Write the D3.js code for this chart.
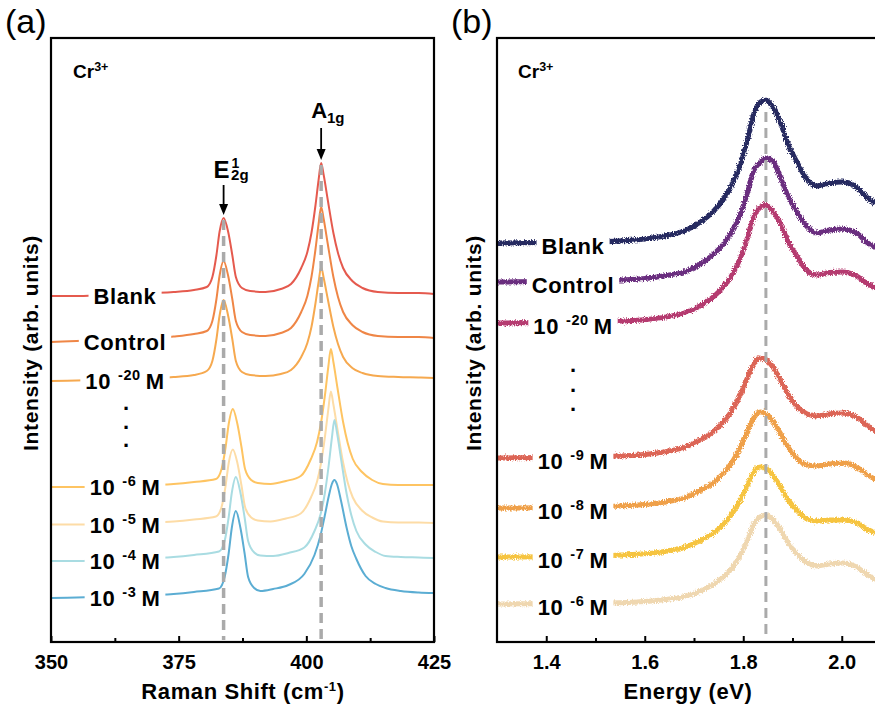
<!DOCTYPE html>
<html>
<head>
<meta charset="utf-8">
<script src="https://cdn.jsdelivr.net/npm/d3@7"></script>
<style>
  body { margin: 0; background: #fff; }
  text { font-family: "Liberation Sans", Arial, sans-serif; fill: #000; }
</style>
</head>
<body>
<svg id="chart" width="875" height="706"></svg>
<script>
// ---- panel (a): Raman spectra ----
const ramanX = [350,355,360,365,370,374,378,380.5,381.6,382.4,383.0,383.8,384.7,385.5,386.2,387.4,389,392,395,397,399,400.2,401.0,401.8,402.4,402.9,403.4,404.2,405.3,406.2,407.2,409,411,414,418,422,425]
const ramanXMid = [350,355,360,365,370,374,378,382.3,383.4,384.2,384.8,385.6,386.5,387.3,388.0,389.2,390.5,393,396,398.9,400.9,402.1,402.9,403.7,404.3,404.8,405.3,406.1,407.2,408.1,409.1,410.9,412.9,415,418,422,425]
const ramanXLow = [350,355,360,365,370,374,378,382.9,384.0,384.8,385.4,386.2,387.1,387.9,388.6,389.8,391,393.5,396.5,399.6,401.6,402.8,403.6,404.4,405.0,405.5,406.0,406.8,407.9,408.8,409.8,411.6,413.6,415.5,418.5,422,425]

const ramanBlank = [346,346,347,348,349,350,352,355,365,387,410,424,410,387,365,354,351,350,353,358,374,390,409,437,462,479,467,442,409,389,374,361,354,350,349,349,348]
const ramanControl = [300,301,302,303,304,305.5,308,311,321,343,366,381,366,343,321,310,307,306,309,314,330,346,365,393,418,435,423,398,365,345,330,317,310,306,305,305,304]
const raman20 = [261,261.5,262,263,264,265,267,271,281,303,326,342,326,303,281,270,267,266,268,272,285,299,315,339,360,375,364,343,315,298,285,274,269,266,265,264.5,264]
const raman6 = [155,155,155.5,156,157,158,160,163,173,195,218,233,218,195,173,162,159,158,161,166,183,200,220,249,275,293,280,254,220,199,183,170,162,158,157,157,157]
const raman5 = [117.5,117.5,118,119,119.5,120.5,122.5,125.5,135,156.5,179,192.5,179,156.5,135,124.5,121.5,120.5,123.5,128.5,144.5,160.5,179.5,207.5,232.5,250.5,237.5,212.5,179.5,159.5,144.5,131.5,124.5,120.5,119.5,119.5,119]
const raman4 = [81,81,82,83,84,85,87,90.5,101,125,149,165,149,125,101,89.5,86.5,86,89,94.5,111,128,148,177.5,204,222,209.5,183,148,127,111,97.5,90,86,85,84.5,84]
const raman3 = [44,44.5,45,46,47,48,50,53.5,65,89,114,131,114,89,65,54,51,53,57,68,87,107,126,146,158,162,158,141,114,96,83,66,58,54,51,49.5,49]

const ramanNames = ['Blank', 'Control', '10^-20', '10^-6', '10^-5', '10^-4', '10^-3']
const ramanPeaks = [383.8, 402.9]
const ramanTicks = [350, 375, 400, 425]
const ramanMinor = [362.5, 387.5, 412.5]

// ---- panel (b): PL spectra ----
const plX = [1.30,1.40,1.50,1.55,1.60,1.65,1.68,1.71,1.74,1.76,1.775,1.795,1.81,1.82,1.835,1.845,1.86,1.875,1.89,1.91,1.93,1.95,1.975,2.00,2.03,2.05,2.07,2.10]
const plBlank = [399,399.5,400,401,403,407,411,419,431,443,455,479,505,526,540,542,535,520,499,479,462,456,459,460,455,445,438,430]
const plControl = [360,360.4,361,362,363.5,367,370,377,388,398,409,429,452,470,480,484,481,465,447,429,415,409,412,413,409,400,394,387]
const pl20 = [319,319.4,320,321,322.3,325.6,329,335.5,345.4,355.3,365.2,385,406.5,424,435,437,431,419,401.5,385,371,367,369.5,370,366,359,354,347]
const pl9 = [184,184.4,185,186,187.5,191,194.5,201.5,210.6,220.4,230,248.4,266,277,284,282.7,275,262.4,248.4,235,228,226,228,229,225,217,211,205]
const pl8 = [134,134.3,135,136,137.4,140.7,144,150.8,159.5,168.8,178,195.6,212.4,223,230,228.5,221,209,195.6,183,177,176,178,179,175,168,162,156]
const pl7 = [85,85.3,85.9,86.9,88.2,91.3,94.5,100.8,109,117.8,126.6,143,158.7,168.8,175,173.8,167,155.6,143,131,123,121,122,122,119.6,113,109,104]
const pl6 = [38,38.3,38.6,39.2,40.5,43,45.4,50.4,57.8,65.3,72.7,87.6,103.7,116.7,125.4,126.7,122.3,113,100,87.6,79,76,78,79,75,68,62,57]

const plNames = ['Blank', 'Control', '10^-20', '10^-9', '10^-8', '10^-7', '10^-6']
const plPeak = 1.846
const plTicks = [1.4, 1.6, 1.8, 2.0]
const plMinor = [1.5, 1.7, 1.9]

const ramanColors = ['#e55a4e', '#ef8646', '#f6a94f', '#fec462', '#fddca6', '#a9dce2', '#5badd3']
const plColors = ['#262a60', '#6b2d7f', '#b53a70', '#dc6556', '#efa048', '#f6c43f', '#efd7b0']

const svg = d3.select('#chart')
svg.append('rect').attr('width', 875).attr('height', 706).attr('fill', '#fff')

const defs = svg.append('defs')
const filt = defs.append('filter').attr('id', 'noisy')
  .attr('filterUnits', 'userSpaceOnUse')
  .attr('x', 0).attr('y', 0).attr('width', 875).attr('height', 706)
filt.append('feTurbulence').attr('type', 'fractalNoise')
  .attr('baseFrequency', '0.9 0.6').attr('numOctaves', 2).attr('seed', 4).attr('result', 'n')
filt.append('feDisplacementMap').attr('in', 'SourceGraphic').attr('in2', 'n')
  .attr('scale', 5).attr('xChannelSelector', 'R').attr('yChannelSelector', 'G')

const plotTop = 38, plotBottom = 642

// text helper: "10^-6" -> 10 with superscript and trailing M
function addLabel(g, x, y, str, size) {
  const t = g.append('text')
    .attr('x', x).attr('y', y)
    .attr('text-anchor', 'middle')
    .attr('font-size', size)
    .attr('font-weight', 'bold')
    .attr('letter-spacing', 0.6)
  if (str.startsWith('10^')) {
    t.append('tspan').text('10')
    t.append('tspan').attr('dx', 7).attr('dy', -9).attr('font-size', size * 0.66).text(str.slice(3))
    t.append('tspan').attr('dx', 5).attr('dy', 9).text('M')
  } else {
    t.text(str)
  }
  const b = t.node().getBBox()
  g.insert('rect', () => t.node())
    .attr('x', b.x - 5).attr('y', b.y + 2)
    .attr('width', b.width + 10).attr('height', b.height - 4)
    .attr('fill', '#fff')
  return t
}

function drawFrame(g, x, x0, x1, ticks, minor, fmt) {
  g.append('g')
    .attr('transform', `translate(0,${plotBottom})`)
    .call(d3.axisBottom(x).tickValues(minor).tickSize(-4).tickFormat(''))
    .call(a => a.select('.domain').remove())
    .call(a => a.selectAll('line').attr('stroke-width', 2))

  const ax = g.append('g')
    .attr('transform', `translate(0,${plotBottom})`)
    .call(d3.axisBottom(x).tickValues(ticks).tickSize(-6).tickPadding(13).tickFormat(fmt))
  ax.select('.domain').remove()
  ax.selectAll('line').attr('stroke-width', 2)
  ax.selectAll('text').attr('font-size', 20).attr('font-weight', 'bold')
    .attr('font-family', '"Liberation Sans", Arial, sans-serif')

  g.append('rect')
    .attr('x', x0).attr('y', plotTop)
    .attr('width', x1 - x0).attr('height', plotBottom - plotTop)
    .attr('fill', 'none').attr('stroke', '#000').attr('stroke-width', 2.2)
}

function yTitle(g, x, cy) {
  g.append('text')
    .attr('transform', `translate(${x},${cy}) rotate(-90)`)
    .attr('text-anchor', 'middle')
    .attr('font-size', 21).attr('font-weight', 'bold').attr('letter-spacing', 0.7)
    .text('Intensity (arb. units)')
}

function crLabel(g, x) {
  const t = g.append('text').attr('x', x).attr('y', 78)
    .attr('font-size', 19).attr('font-weight', 'bold')
  t.append('tspan').text('Cr')
  t.append('tspan').attr('dy', -7).attr('font-size', 12.5).text('3+')
}

// vertical ellipsis as one text element
function dots(g, x, ys) {
  const t = g.append('text').attr('text-anchor', 'middle')
    .attr('font-size', 22).attr('font-weight', 'bold')
  ys.forEach(y => t.append('tspan').attr('x', x).attr('y', y + 3).text('.'))
}

function arrow(g, x, y0, y1) {
  g.append('line').attr('x1', x).attr('x2', x).attr('y1', y0).attr('y2', y1 - 8)
    .attr('stroke', '#000').attr('stroke-width', 1.8)
  g.append('path')
    .attr('d', `M${x - 4.5},${y1 - 11}L${x + 4.5},${y1 - 11}L${x},${y1}Z`)
    .attr('fill', '#000')
}

// ================= panel (a) =================
const xA = d3.scaleLinear().domain([350, 425]).range([51, 434])
const yA = d3.scaleLinear().domain([0, 604]).range([plotBottom, plotTop])
const gA = svg.append('g')

const ramanSeries = [ramanBlank, ramanControl, raman20, raman6, raman5, raman4, raman3]
const ramanXs = [ramanX, ramanX, ramanX, ramanXMid, ramanXMid, ramanXLow, ramanXLow]

const lineA = d3.line().curve(d3.curveMonotoneX)
ramanSeries.forEach((s, i) => {
  gA.append('path')
    .attr('d', lineA(s.map((v, j) => [xA(ramanXs[i][j]), yA(v)])))
    .attr('fill', 'none')
    .attr('stroke', ramanColors[i])
    .attr('stroke-width', 2)
})

// dashed guides at the peak positions of the blank spectrum
ramanPeaks.forEach(p => {
  const j = d3.minIndex(ramanX, x => Math.abs(x - p))
  gA.append('line')
    .attr('x1', xA(p)).attr('x2', xA(p))
    .attr('y1', yA(ramanBlank[j]) + 2).attr('y2', plotBottom - 2)
    .attr('stroke', '#aaa').attr('stroke-width', 3.5)
    .attr('stroke-dasharray', '10,6')
})

ramanNames.forEach((n, i) => addLabel(gA, 125, yA(ramanSeries[i][0]) + 8, n, 22))
dots(gA, 126, [407, 426, 444])

// peak annotations
{
  const xe = xA(ramanPeaks[0])
  const jE = d3.minIndex(ramanX, x => Math.abs(x - ramanPeaks[0]))
  arrow(gA, xe, 185, yA(ramanBlank[jE]) - 3)
  const te = gA.append('text').attr('font-weight', 'bold')
  te.append('tspan').attr('x', xe - 10).attr('y', 178).attr('font-size', 24).text('E')
  te.append('tspan').attr('x', xe + 8).attr('y', 168).attr('font-size', 14).text('1')
  te.append('tspan').attr('x', xe + 7.5).attr('y', 180).attr('font-size', 15).text('2g')

  const xa = xA(ramanPeaks[1])
  const jA = d3.minIndex(ramanX, x => Math.abs(x - ramanPeaks[1]))
  arrow(gA, xa, 128, yA(ramanBlank[jA]) - 3)
  const t = gA.append('text').attr('x', xa - 10).attr('y', 118).attr('font-size', 22).attr('font-weight', 'bold')
  t.append('tspan').text('A')
  t.append('tspan').attr('dy', 5).attr('font-size', 15).text('1g')
}

drawFrame(gA, xA, 51, 434, ramanTicks, ramanMinor, d3.format('d'))
yTitle(gA, 38, 343)
crLabel(gA, 73)
{
  const t = gA.append('text').attr('x', 243).attr('y', 699).attr('text-anchor', 'middle')
    .attr('font-size', 22).attr('font-weight', 'bold').attr('letter-spacing', 0.6)
  t.append('tspan').text('Raman Shift (cm')
  t.append('tspan').attr('dy', -8).attr('font-size', 13).text('-1')
  t.append('tspan').attr('dy', 8).text(')')
}
gA.append('text').attr('x', 5).attr('y', 33).attr('font-size', 34).text('(a)')

// ================= panel (b) =================
const xB = d3.scaleLinear().domain([1.3, 2.1]).range([497, 891])
const yB = d3.scaleLinear().domain([0, 604]).range([plotBottom, plotTop])
const gB = svg.append('g')

const plSeries = [plBlank, plControl, pl20, pl9, pl8, pl7, pl6]
const lineB = d3.line().curve(d3.curveMonotoneX)
const gLines = gB.append('g').attr('filter', 'url(#noisy)')
plSeries.forEach((s, i) => {
  gLines.append('path')
    .attr('d', lineB(s.map((v, j) => [xB(plX[j]), yB(v)])))
    .attr('fill', 'none')
    .attr('stroke', plColors[i])
    .attr('stroke-width', 5)
})

gB.append('line')
  .attr('x1', xB(plPeak)).attr('x2', xB(plPeak))
  .attr('y1', yB(d3.max(plBlank)) + 12).attr('y2', plotBottom - 2)
  .attr('stroke', '#aaa').attr('stroke-width', 3)
  .attr('stroke-dasharray', '10,6')

plNames.forEach((n, i) => addLabel(gB, 573, yB(plSeries[i][0]) + 11, n, 22))
dots(gB, 573, [369, 389, 408])

drawFrame(gB, xB, 497, 891, plTicks, plMinor, d3.format('.1f'))
yTitle(gB, 481, 343)
crLabel(gB, 518)
gB.append('text').attr('x', 688).attr('y', 699).attr('text-anchor', 'middle')
  .attr('font-size', 22).attr('font-weight', 'bold').attr('letter-spacing', 0.6)
  .text('Energy (eV)')
gB.append('text').attr('x', 451).attr('y', 33).attr('font-size', 34).text('(b)')
</script>
</body>
</html>
